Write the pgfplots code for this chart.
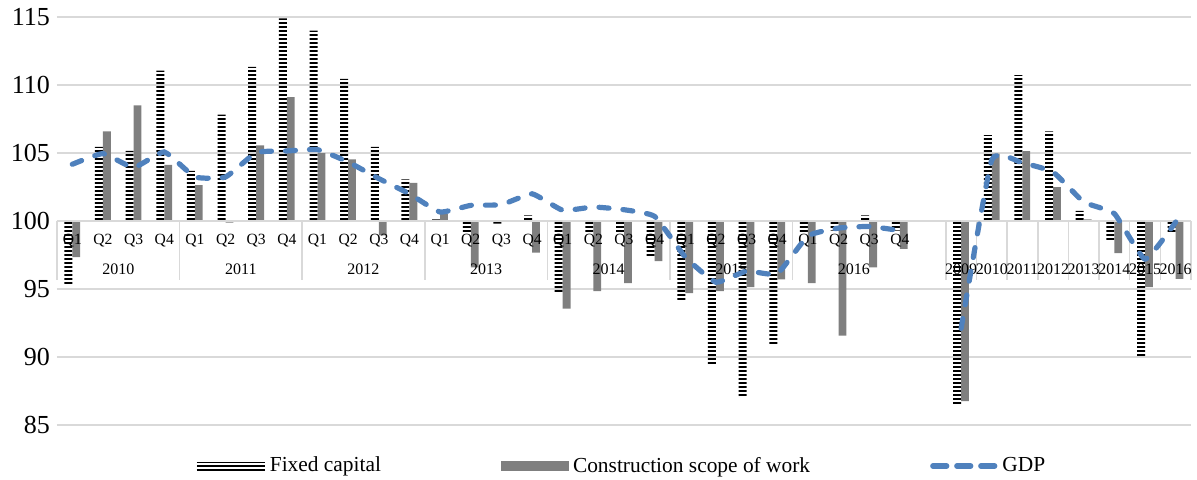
\documentclass[border=0pt]{standalone}
\usepackage{fontspec}
\setmainfont{Liberation Serif}
\usepackage{pgfplots}
\usepackage{pgfplotstable}
\pgfplotsset{compat=1.18}
\usetikzlibrary{patterns,patterns.meta}
\definecolor{gridc}{HTML}{D9D9D9}
\definecolor{barg}{HTML}{7F7F7F}
\definecolor{gdpc}{HTML}{4F81BD}
\tikzset{
  qlab/.style={font=\fontsize{7.8}{8}\selectfont, yshift=-9.7pt, inner sep=0pt},
  ylab/.style={font=\fontsize{8}{8}\selectfont, yshift=-24pt, inner sep=0pt},
}

\pgfplotstableread{
x fixed constr gdp
0 95.26 97.35 104.17
1 105.45 106.6 104.96
2 105.15 108.5 103.93
3 111.05 104.12 105.08
4 103.68 102.63 103.24
5 107.83 99.88 103.24
6 111.34 105.57 105.03
7 114.9 109.1 105.15
8 113.99 105.0 105.25
9 110.46 104.54 104.34
10 105.45 98.94 103.12
11 103.07 102.8 102.0
12 100.12 100.5 100.66
13 99.2 96.6 101.15
14 99.8 nan 101.2
15 100.42 97.67 102.0
16 94.73 93.55 100.79
17 99.1 94.85 101.03
18 99.1 95.44 100.83
19 97.35 97.05 100.34
20 94.16 94.7 97.35
21 89.43 94.85 95.5
22 87.04 95.14 96.32
23 90.9 95.7 96.12
24 99.07 95.43 98.9
25 99.3 91.58 99.48
26 100.42 96.6 99.6
27 99.3 97.96 99.3
28 nan nan nan
29 86.5 86.75 92.1
30 106.31 104.96 104.5
31 110.73 105.13 104.27
32 106.6 102.5 103.6
33 100.74 100.12 101.4
34 98.58 97.64 100.54
35 89.98 95.14 97.2
36 99.14 95.75 99.93
}\data

\begin{document}
\begin{tikzpicture}
\path[use as bounding box] (-28.5pt,-27pt) rectangle (570pt,212.5pt);
\begin{axis}[
  at={(0,0)}, anchor=south west,
  scale only axis, width=567pt, height=204pt,
  xmin=-0.5, xmax=36.5, ymin=-15, ymax=15,
  xtick=\empty,
  ytick={-15,-10,...,15},
  yticklabels={85,90,95,100,105,110,115},
  yticklabel style={font=\fontsize{13}{13}\selectfont},
  ymajorgrids, grid style={gridc, line width=0.75pt},
  axis line style={draw=none}, major tick length=0pt,
  clip=false,
  legend columns=3,
  legend style={at={(0.117,-0.1005)}, anchor=west, draw=none, fill=none,
    font=\fontsize{10.7}{12}\selectfont,
    /tikz/every even column/.append style={column sep=58pt}},
]
\addplot[ybar, bar width=4pt, bar shift=-2pt, draw=none,
  pattern={Lines[angle=0,distance=2pt,line width=1pt]}, pattern color=black,
  legend image code/.code={\draw[black,line width=0.9pt] (0pt,-1.8pt)--(34pt,-1.8pt) (0pt,0pt)--(34pt,0pt) (0pt,1.8pt)--(34pt,1.8pt);}]
  table[x=x, y expr=\thisrow{fixed}-100] {\data};
\addlegendentry{Fixed capital}
\addplot[ybar, bar width=3.9pt, bar shift=1.95pt, draw=none, fill=barg,
  legend image code/.code={\fill[barg] (0pt,-2.5pt) rectangle (34pt,2.5pt);}]
  table[x=x, y expr=\thisrow{constr}-100] {\data};
\addlegendentry{Construction scope of work}

\pgfplotsinvokeforeach{-0.5,3.5,7.5,11.5,15.5,19.5,23.5,28.5,29.5,30.5,31.5,32.5,33.5,34.5,35.5,36.5}{
  \draw[gridc, line width=0.75pt] (axis cs:#1,0) -- ++(0pt,-29.6pt);
}
\draw[gridc, line width=0.75pt] (axis cs:-0.5,0) -- (axis cs:36.5,0);
\pgfplotsinvokeforeach{0,4,8,12,16,20,24}{\node[qlab] at (axis cs:#1,0) {Q1};}
\pgfplotsinvokeforeach{1,5,9,13,17,21,25}{\node[qlab] at (axis cs:#1,0) {Q2};}
\pgfplotsinvokeforeach{2,6,10,14,18,22,26}{\node[qlab] at (axis cs:#1,0) {Q3};}
\pgfplotsinvokeforeach{3,7,11,15,19,23,27}{\node[qlab] at (axis cs:#1,0) {Q4};}
\node[ylab] at (axis cs:1.5,0) {2010};
\node[ylab] at (axis cs:5.5,0) {2011};
\node[ylab] at (axis cs:9.5,0) {2012};
\node[ylab] at (axis cs:13.5,0) {2013};
\node[ylab] at (axis cs:17.5,0) {2014};
\node[ylab] at (axis cs:21.5,0) {2015};
\node[ylab] at (axis cs:25.5,0) {2016};
\node[ylab] at (axis cs:29,0) {2009};
\node[ylab] at (axis cs:30,0) {2010};
\node[ylab] at (axis cs:31,0) {2011};
\node[ylab] at (axis cs:32,0) {2012};
\node[ylab] at (axis cs:33,0) {2013};
\node[ylab] at (axis cs:34,0) {2014};
\node[ylab] at (axis cs:35,0) {2015};
\node[ylab] at (axis cs:36,0) {2016};

\addplot[gdpc, line width=2.6pt, line cap=round, dash pattern=on 5pt off 7pt,
  smooth, tension=0.25, no markers, unbounded coords=jump,
  legend image code/.code={\draw[gdpc, line width=2.6pt, line cap=round, dash pattern=on 7pt off 5pt] (1.5pt,0pt)--(33pt,0pt);}]
  table[x=x, y expr=\thisrow{gdp}-100] {\data};
\addlegendentry{GDP}
\end{axis}
\end{tikzpicture}
\end{document}
